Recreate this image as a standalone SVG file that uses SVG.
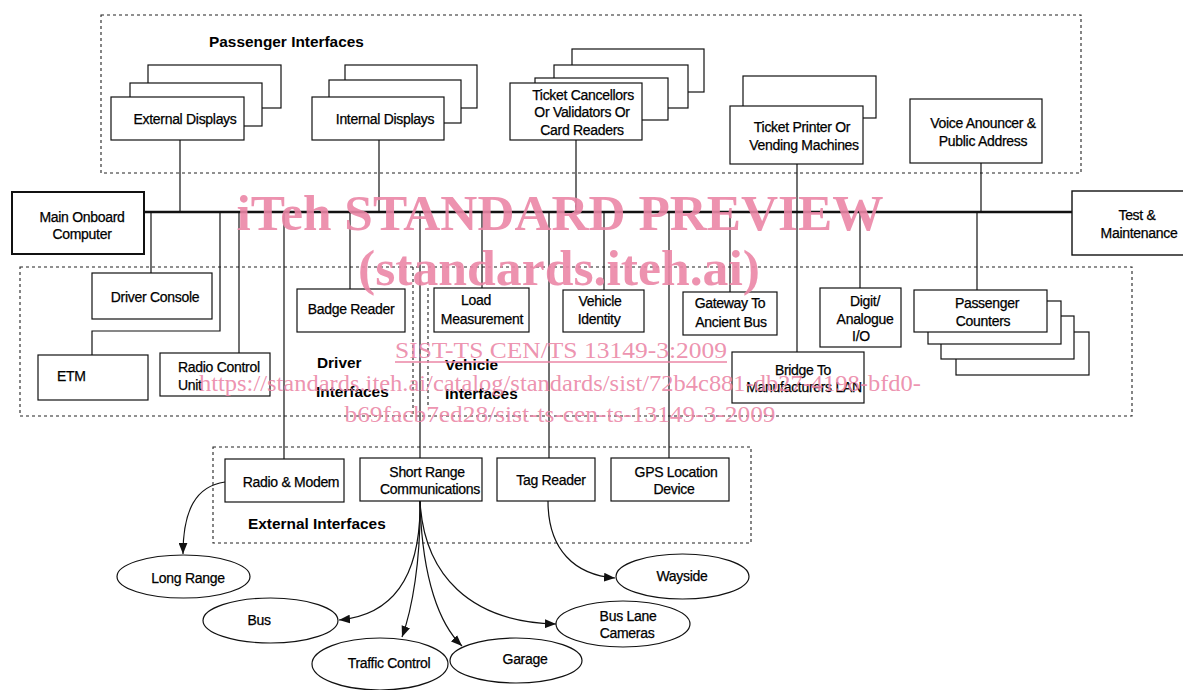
<svg xmlns="http://www.w3.org/2000/svg" width="1183" height="690" viewBox="0 0 1183 690">
<defs>
<style>
.b{fill:#fff;stroke:#111;stroke-width:1.2}
.bk{fill:none;stroke:#111;stroke-width:1.2}
.d{fill:none;stroke:#222;stroke-width:1.1;stroke-dasharray:3 3}
.c{fill:none;stroke:#111;stroke-width:1.2}
.a{fill:none;stroke:#111;stroke-width:1.2;marker-end:url(#ah)}
.t{font-family:"Liberation Sans",Arial,sans-serif;font-size:14px;letter-spacing:-0.3px;fill:#000;stroke:#000;stroke-width:0.25;text-anchor:middle}
.s{text-anchor:start}
.h{font-family:"Liberation Sans",Arial,sans-serif;font-size:15.4px;font-weight:bold;fill:#000;text-anchor:start}
.w{font-family:"Liberation Serif","Times New Roman",serif;fill:#eb86a6;fill-opacity:0.9;text-anchor:middle}
</style>
<marker id="ah" viewBox="0 0 10 8" refX="10" refY="4" markerWidth="11" markerHeight="9" markerUnits="userSpaceOnUse" orient="auto">
<path d="M0,0 L10,4 L0,8 z" fill="#111"/>
</marker>
</defs>
<rect width="1183" height="690" fill="#fff"/>

<!-- group frames -->
<g id="frames">
<rect class="d" x="101" y="15" width="980" height="158"/>
<rect class="d" x="20" y="267" width="1112" height="149"/>
<line class="d" x1="413" y1="267" x2="413" y2="416"/>
<line class="d" x1="428" y1="288" x2="428" y2="408"/>
<rect class="d" x="213" y="447" width="538" height="96"/>
<text class="h" x="209" y="47">Passenger Interfaces</text>
<text class="h" x="317" y="368">Driver</text>
<text class="h" x="316" y="397">Interfaces</text>
<text class="h" x="445" y="370">Vehicle</text>
<text class="h" x="445" y="399">Interfaces</text>
<text class="h" x="248" y="529">External Interfaces</text>
</g>

<!-- connectors -->
<g id="connectors">
<line x1="144" y1="212" x2="1072" y2="212" stroke="#111" stroke-width="2.6"/>
<line class="c" x1="180" y1="140" x2="180" y2="212"/>
<line class="c" x1="379" y1="140" x2="379" y2="212"/>
<line class="c" x1="576" y1="140" x2="576" y2="212"/>
<line class="c" x1="797" y1="164" x2="797" y2="352"/>
<line class="c" x1="981" y1="163" x2="981" y2="212"/>
<line class="c" x1="151" y1="212" x2="151" y2="273"/>
<path class="c" d="M220,212 V331 H92 V355"/>
<line class="c" x1="239" y1="212" x2="239" y2="353"/>
<line class="c" x1="284" y1="212" x2="284" y2="459"/>
<line class="c" x1="350" y1="212" x2="350" y2="289"/>
<line class="c" x1="420" y1="212" x2="420" y2="458"/>
<line class="c" x1="482" y1="212" x2="482" y2="288"/>
<line class="c" x1="549" y1="212" x2="549" y2="458"/>
<line class="c" x1="604" y1="212" x2="604" y2="290"/>
<line class="c" x1="669" y1="212" x2="669" y2="458"/>
<line class="c" x1="730" y1="212" x2="730" y2="292"/>
<line class="c" x1="860" y1="212" x2="860" y2="288"/>
<line class="c" x1="977" y1="212" x2="977" y2="290"/>
<path class="a" d="M225,482 C196,486 183,510 183,554"/>
<path class="a" d="M420,501 C421,575 395,615 339,620"/>
<path class="a" d="M420,501 C421,560 412,610 402,637"/>
<path class="a" d="M420,501 C422,580 440,625 462,646"/>
<path class="a" d="M420,501 C424,575 470,622 556,624"/>
<path class="a" d="M548,501 C548,550 575,575 615,578"/>
</g>

<!-- passenger interfaces -->
<g id="external-displays">
<rect class="b" x="148" y="65" width="133" height="43"/>
<rect class="b" x="130" y="83" width="132" height="43"/>
<rect class="b" x="111" y="97" width="133" height="43"/>
<text class="t" x="185" y="124">External Displays</text>
</g>
<g id="internal-displays">
<rect class="b" x="345" y="65" width="132" height="43"/>
<rect class="b" x="329" y="80" width="132" height="43"/>
<rect class="b" x="312" y="97" width="132" height="43"/>
<text class="t" x="385" y="124">Internal Displays</text>
</g>
<g id="ticket-cancellors">
<rect class="b" x="572" y="49" width="132" height="43"/>
<rect class="b" x="554" y="65" width="134" height="43"/>
<rect class="b" x="535" y="78" width="133" height="42"/>
<rect class="b" x="510" y="83" width="132" height="57"/>
<text class="t" x="583" y="100">Ticket Cancellors</text>
<text class="t" x="582" y="117">Or Validators Or</text>
<text class="t" x="582" y="135">Card Readers</text>
</g>
<g id="ticket-printer">
<rect class="b" x="743" y="76" width="133" height="42"/>
<rect class="b" x="730" y="106" width="133" height="58"/>
<text class="t" x="802" y="132">Ticket Printer Or</text>
<text class="t" x="804" y="150">Vending Machines</text>
</g>
<g id="voice-announcer">
<rect class="b" x="910" y="99" width="132" height="64"/>
<text class="t" x="983" y="128">Voice Anouncer &amp;</text>
<text class="t" x="983" y="146">Public Address</text>
</g>

<g id="main-onboard-computer">
<rect x="12" y="192" width="132" height="62" fill="#fff" stroke="#111" stroke-width="2"/>
<text class="t" x="82" y="222">Main Onboard</text>
<text class="t" x="82" y="239">Computer</text>
</g>
<g id="test-maintenance">
<rect x="1072" y="191" width="120" height="64" fill="#fff" stroke="#111" stroke-width="1.4"/>
<text class="t" x="1137" y="220">Test &amp;</text>
<text class="t" x="1139" y="238">Maintenance</text>
</g>

<!-- driver interfaces -->
<g id="driver-console">
<rect class="b" x="92" y="273" width="120" height="46"/>
<text class="t" x="155" y="302">Driver Console</text>
</g>
<g id="etm">
<rect class="b" x="38" y="355" width="110" height="45"/>
<text class="t s" x="57" y="381">ETM</text>
</g>
<g id="radio-control-unit">
<rect class="b" x="160" y="353" width="110" height="43"/>
<text class="t s" x="178" y="372">Radio Control</text>
<text class="t s" x="178" y="390">Unit</text>
</g>
<g id="badge-reader">
<rect class="b" x="297" y="289" width="108" height="43"/>
<text class="t" x="351" y="314">Badge Reader</text>
</g>

<!-- vehicle interfaces -->
<g id="load-measurement">
<rect class="b" x="434" y="288" width="95" height="44"/>
<text class="t" x="476" y="305">Load</text>
<text class="t" x="482" y="324">Measurement</text>
</g>
<g id="vehicle-identity">
<rect class="b" x="563" y="290" width="81" height="42"/>
<text class="t" x="600" y="306">Vehicle</text>
<text class="t" x="599" y="324">Identity</text>
</g>
<g id="gateway">
<rect class="b" x="683" y="292" width="94" height="43"/>
<text class="t" x="730" y="308">Gateway To</text>
<text class="t" x="731" y="327">Ancient Bus</text>
</g>
<g id="digit-analogue">
<rect class="b" x="820" y="288" width="81" height="59"/>
<text class="t" x="865" y="306">Digit/</text>
<text class="t" x="865" y="324">Analogue</text>
<text class="t" x="861" y="341">I/O</text>
</g>
<g id="passenger-counters">
<rect class="b" x="956" y="332" width="133" height="43"/>
<rect class="b" x="941" y="316" width="133" height="43"/>
<rect class="b" x="928" y="301" width="133" height="43"/>
<rect class="b" x="914" y="290" width="133" height="42"/>
<text class="t" x="987" y="308">Passenger</text>
<text class="t" x="983" y="326">Counters</text>
</g>
<g id="bridge">
<rect class="b" x="732" y="352" width="132" height="51"/>
<text class="t" x="803" y="375">Bridge To</text>
<text class="t" x="804" y="392">Manufacturers LAN</text>
</g>

<!-- external interfaces -->
<g id="radio-modem">
<rect class="b" x="225" y="459" width="119" height="43"/>
<text class="t" x="291" y="487">Radio &amp; Modem</text>
</g>
<g id="short-range">
<rect class="b" x="360" y="458" width="122" height="43"/>
<text class="t" x="427" y="477">Short Range</text>
<text class="t" x="430" y="494">Communications</text>
</g>
<g id="tag-reader">
<rect class="b" x="497" y="458" width="98" height="43"/>
<text class="t" x="551" y="485">Tag Reader</text>
</g>
<g id="gps">
<rect class="b" x="611" y="458" width="118" height="43"/>
<text class="t" x="676" y="477">GPS Location</text>
<text class="t" x="674" y="494">Device</text>
</g>

<!-- destinations -->
<g id="long-range">
<ellipse class="b" cx="183.5" cy="576.5" rx="66.5" ry="21.5"/>
<text class="t" x="188" y="583">Long Range</text>
</g>
<g id="bus">
<ellipse class="b" cx="270.5" cy="620.5" rx="67.5" ry="22.5"/>
<text class="t" x="259" y="625">Bus</text>
</g>
<g id="traffic-control">
<ellipse class="b" cx="380" cy="664" rx="68" ry="26"/>
<text class="t" x="389" y="668">Traffic Control</text>
</g>
<g id="garage">
<ellipse class="b" cx="516" cy="660.5" rx="66" ry="22.5"/>
<text class="t" x="525" y="664">Garage</text>
</g>
<g id="bus-lane-cameras">
<ellipse class="b" cx="623" cy="624" rx="67" ry="23"/>
<text class="t" x="628" y="621">Bus Lane</text>
<text class="t" x="627" y="638">Cameras</text>
</g>
<g id="wayside">
<ellipse class="b" cx="682.5" cy="576.5" rx="66.5" ry="22.5"/>
<text class="t" x="682" y="581">Wayside</text>
</g>

<!-- watermark -->
<g id="watermark">
<text class="w" x="560" y="230" font-size="50" font-weight="bold" textLength="647" lengthAdjust="spacingAndGlyphs">iTeh STANDARD PREVIEW</text>
<text class="w" x="559" y="285" font-size="50" font-weight="bold" textLength="402" lengthAdjust="spacingAndGlyphs">(standards.iteh.ai)</text>
<text class="w" x="561" y="358" font-size="24" textLength="332" lengthAdjust="spacingAndGlyphs">SIST-TS CEN/TS 13149-3:2009</text>
<line x1="395" y1="362" x2="727" y2="362" stroke="#eb86a6" stroke-width="1.3"/>
<text class="w" x="560" y="391" font-size="24" textLength="722" lengthAdjust="spacingAndGlyphs">https://standards.iteh.ai/catalog/standards/sist/72b4c881-db27-4198-bfd0-</text>
<text class="w" x="560" y="422" font-size="24" textLength="431" lengthAdjust="spacingAndGlyphs">b69facb7ed28/sist-ts-cen-ts-13149-3-2009</text>
</g>
</svg>
